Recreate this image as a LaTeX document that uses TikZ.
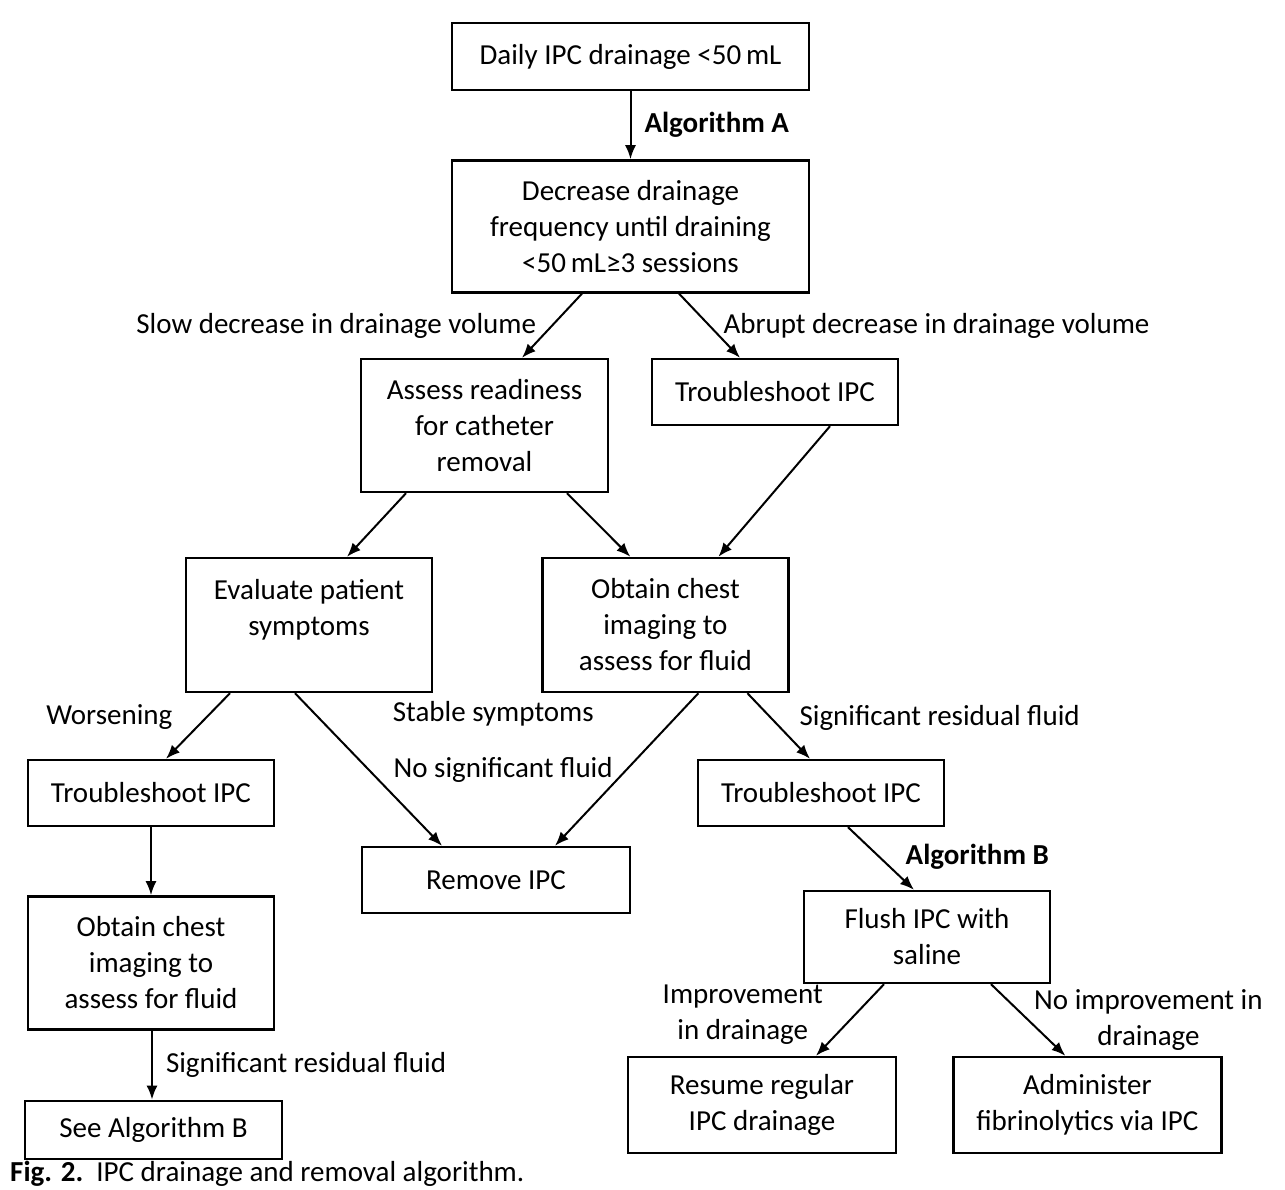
\documentclass[tikz,border=0pt]{standalone}
\usepackage{fontspec}
\setmainfont{Carlito}
\usetikzlibrary{shapes,arrows.meta}
\usetikzlibrary{positioning}
\tikzstyle{box} = [draw, rectangle, line width=2.4pt, align=center,
inner sep=0pt, font=\fontsize{29}{36}\selectfont]
\tikzstyle{line} = [draw, -{Latex[length=14pt,width=11pt]}, line width=2pt]

\begin{document}
\begin{tikzpicture}[x=1pt, y=-1pt,
	lbl/.style={font=\fontsize{29}{36}\selectfont, align=center, inner sep=3pt}]
    \useasboundingbox (0,0) rectangle (1285,1190);
    \node [box, minimum width=357pt, minimum height=67pt] (daily) at (630.5,56.5) {Daily IPC drainage <50\,mL};
    \node [box, minimum width=357pt, minimum height=132pt, below=68pt of daily] (decr) {Decrease drainage\\frequency until draining\\<50\,mL≥3 sessions};
    \node [box, minimum width=247pt, minimum height=133pt] (assess) at (484.5,425.5) {Assess readiness\\for catheter\\removal};
    \node [box, minimum width=246pt, minimum height=66pt] (tsTop) at (775,392) {Troubleshoot IPC};
    \node [box, minimum width=246pt, minimum height=134pt] (evalu) at (309,625) {Evaluate patient\\symptoms\\~};
    \node [box, minimum width=246pt, minimum height=134pt, right=108pt of evalu] (chestMid) {Obtain chest\\imaging to\\assess for fluid};
    \node [box, minimum width=246pt, minimum height=66pt] (tsLeft) at (151,793) {Troubleshoot IPC};
    \node [box, minimum width=268pt, minimum height=66pt] (removeIPC) at (496,880) {Remove IPC};
    \node [box, minimum width=246pt, minimum height=66pt] (tsRight) at (821,793) {Troubleshoot IPC};
    \node [box, minimum width=246pt, minimum height=133pt, below=68pt of tsLeft] (chestLeft) {Obtain chest\\imaging to\\assess for fluid};
    \node [box, minimum width=257pt, minimum height=58pt, below=69pt of chestLeft, xshift=2.5pt] (seeB) {See Algorithm B};
    \node [box, minimum width=246pt, minimum height=92pt] (flush) at (927,937) {Flush IPC with\\saline};
    \node [box, minimum width=268pt, minimum height=96pt] (resume) at (762,1105) {Resume regular\\IPC drainage};
    \node [box, minimum width=268pt, minimum height=96pt, right=55pt of resume] (admin) {Administer\\fibrinolytics via IPC};
	%% Arrows
	\path [line] (daily) to node [lbl, midway, right=10pt] (algA) {\textbf{Algorithm A}} (decr);
	\path [line] ([xshift=-48.5pt]decr.south) to node [lbl, midway, left=12pt] (slowLbl) {Slow decrease in drainage volume} ([xshift=37.5pt]assess.north);
	\path [line] ([xshift=48.5pt]decr.south) to node [lbl, midway, right=10pt] (abruptLbl) {Abrupt decrease in drainage volume} ([xshift=-35pt]tsTop.north);
	\path [line] ([xshift=-78.5pt]assess.south) to ([xshift=38pt]evalu.north);
	\path [line] ([xshift=82.5pt]assess.south) to ([xshift=-35pt]chestMid.north);
	\path [line] ([xshift=55pt]tsTop.south) to ([xshift=53pt]chestMid.north);
	\path [line] ([xshift=-79pt]evalu.south) to node [lbl, pos=0.37, left=30pt] (worseLbl) {Worsening} ([xshift=15pt]tsLeft.north);
	\path [line] ([xshift=-14pt]evalu.south) to node [lbl, pos=0.135, right=74pt] (stableLbl) {Stable symptoms} ([xshift=-54pt]removeIPC.north);
	\path [line] ([xshift=33pt]chestMid.south) to node [lbl, midway, left=10pt] (noFluidLbl) {No significant fluid} ([xshift=59pt]removeIPC.north);
	\path [line] ([xshift=82pt]chestMid.south) to node [lbl, pos=0.37, right=25pt] (sigRightLbl) {Significant residual fluid} ([xshift=-11pt]tsRight.north);
	\path [line] (tsLeft) to (chestLeft);
	\path [line] ([xshift=27pt]tsRight.south) to node [lbl, pos=0.48, right=22pt] (algB) {\textbf{Algorithm B}} ([xshift=-13pt]flush.north);
	\path [line] ([xshift=1pt]chestLeft.south) to node [lbl, midway, right=10pt] (sigLeftLbl) {Significant residual fluid} ([xshift=-1.5pt]seeB.north);
	%% Flush outcomes
	\path [line] ([xshift=-43pt]flush.south) to node [lbl, pos=0.43, left=28pt] (improveLbl) {Improvement\\in drainage} ([xshift=54pt]resume.north);
	\path [line] ([xshift=64pt]flush.south) to node [lbl, midway, right=2pt] (noImproveLbl) {No improvement in\\drainage} ([xshift=-22pt]admin.north);
	%% Caption
	\node [anchor=base west, inner sep=0pt, font=\fontsize{29}{36}\selectfont] (caption) at (10,1181) {\textbf{Fig. 2.}\ \ IPC drainage and removal algorithm.};
\end{tikzpicture}
\end{document}
